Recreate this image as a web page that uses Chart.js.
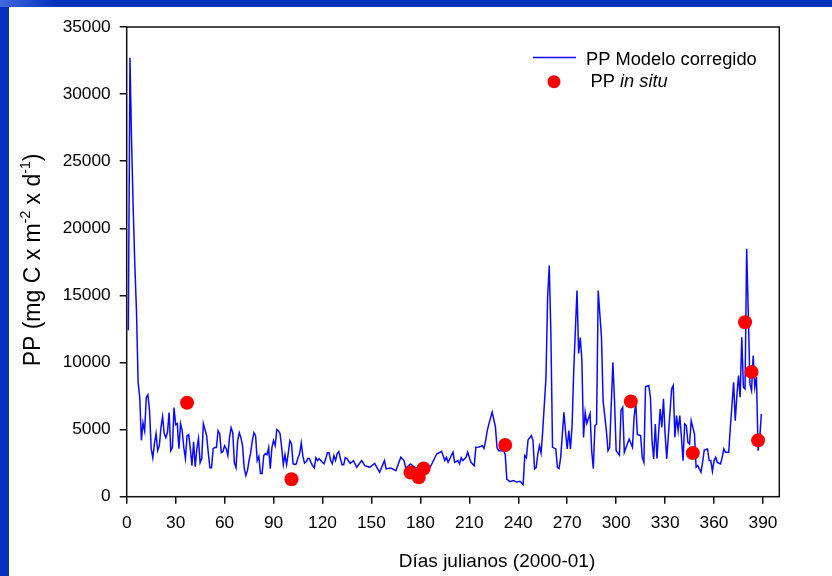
<!DOCTYPE html>
<html><head><meta charset="utf-8">
<script src="https://cdn.jsdelivr.net/npm/chart.js@4.4.1/dist/chart.umd.min.js"></script>
<style>
html,body{margin:0;padding:0;width:832px;height:576px;overflow:hidden;background:#0533bd;}
#bg{position:absolute;left:9px;top:7px;right:0;bottom:0;background:#fff;}
#streak{position:absolute;left:0;top:0;width:60px;height:7px;background:linear-gradient(100deg,rgba(120,150,255,0.55) 0%,rgba(120,150,255,0.0) 90%);}
#wrap{position:absolute;left:0;top:0;width:832px;height:576px;}
</style></head>
<body><div id="bg"></div><div id="streak"></div><div id="wrap"><canvas id="c" width="832" height="576"></canvas></div>
<script>
// ---- data ----
const modelDays = [1,2,3,4,5,6,7,8,9,10,11,12,13,14,15,16,17,18,19,20,21,22,23,24,25,26,27,28,29,30,31,32,33,34,35,36,37,38,39,40,41,42,43,44,45,46,47,48,49,50,51,52,53,54,55,56,57,58,59,60,61,62,63,64,65,66,67,68,69,70,71,72,73,74,75,76,77,78,79,80,81,82,83,84,85,86,87,88,89,90,91,92,93,94,95,96,97,98,99,100,101,102,103,104,105,106,107,108,109,110,111,112,113,114,115,116,117,118,119,120,121,122,123,124,125,126,127,128,129,130,131,132,133,134,135,
137,139,141,144,146,149,152,155,158,159,162,165,168,170,171,174,177,180,183,186,190,193,195,196,197,200,201,203,
204,205,206,208,209,211,213,214,216,218,219,220,221,222,224,226,227,228,231,232,233,235,237,239,241,243,244,245,246,248,249,250,251,252,253,254,255,257,258,259,260,261,263,264,265,266,268,269,270,271,272,273,274,276,277,278,279,280,281,282,284,285,286,287,288,289,291,292,294,295,296,298,299,300,302,303,304,305,307,308,
310,311,312,313,314,315,316,317,318,320,321,322,323,324,325,327,328,329,330,331,332,334,335,336,337,338,339,340,341,342,343,344,345,346,347,348,349,350,351,352,353,354,356,357,358,359,360,361,362,364,365,366,367,369,370,372,373,374,375,376,377,378,379,380,381,382,383,384,385,386,387,388,389];
const modelPP = [12400,32700,26400,21400,17200,13800,8500,7400,4200,5500,4900,7400,7600,6400,3600,2900,3950,4700,3430,3800,5150,5970,4700,4400,4800,6270,3430,3660,6640,5370,5450,3580,5450,4920,3660,2840,4550,4630,3580,2310,4100,2240,3580,4330,2540,2840,5450,5000,4550,3280,2160,2160,3580,3660,3660,4920,4700,3280,3360,3800,3580,3060,4400,5150,4770,2540,2160,4180,4770,4400,3800,2160,1570,1940,2690,3280,4180,4770,4550,2690,3000,1720,1720,3060,3210,3130,3660,2090,3660,4180,3800,5000,4920,4700,3660,2390,3130,2390,3210,4180,3950,2460,2390,2460,2910,3210,4000,3000,2500,2600,2840,2840,2540,2300,2160,2910,2690,2840,2690,2550,2460,2840,3280,3280,2690,2460,3060,2690,3210,3360,2840,2390,2390,2910,2840,
2490,2690,2190,2690,2310,2190,2490,1820,2690,2070,2140,1940,2940,2690,2140,2440,2140,2190,2190,2190,3180,3380,2690,2940,2560,3310,2560,2690,
2440,2900,2690,2940,3310,2560,2310,3680,3700,3800,3600,4180,4920,5430,6300,5200,3650,3430,3430,3150,1300,1120,1200,1100,1150,900,3060,2900,4230,4550,4200,2070,2190,3180,3800,3250,4920,8900,14870,17230,12140,3680,3560,2190,2090,2930,6290,4800,3560,4920,3560,5300,9400,15370,10670,11860,10150,4420,6290,5460,6190,3430,2090,5300,5400,15370,11880,7160,4920,3430,3680,10020,7160,3430,3100,6420,6660,3310,3980,4300,
3680,5920,7040,4630,4600,4550,2930,2560,8200,8280,7410,4180,2810,5420,2840,6540,5170,7290,4680,2810,4560,8030,8280,4430,6040,4930,6040,4430,2690,5420,5300,4050,3930,5670,5170,4680,2190,2320,2070,1820,2560,3480,3560,2690,2690,1890,2690,2940,2560,2440,2940,3560,3310,3310,5170,8530,5670,7530,9030,7410,11880,8160,8030,18480,13630,8410,7910,10520,8160,8910,3430,4300,6170];
const situDays = [37,101,174,179,182,232,309,347,379,383,387];
const situPP   = [7000,1300,1800,1450,2100,3850,7100,3250,13000,9300,4200];
const xTicks = [0,30,60,90,120,150,180,210,240,270,300,330,360,390];
const xTickLabels = xTicks.map(String);
const yTicks = [0,5000,10000,15000,20000,25000,30000,35000];
const yTickLabels = yTicks.map(String);
const seriesNames = ['PP Modelo corregido','PP','in situ'];
const xTitle = 'Días julianos (2000-01)';

// ---- fonts ----
function hasFont(name){
  const c=document.createElement('canvas').getContext('2d');
  const s='PP Modelo corregido 35000';
  c.font='20px monospace'; const a=c.measureText(s).width;
  c.font='20px "'+name+'", monospace'; const b=c.measureText(s).width;
  return Math.abs(a-b)>0.5;
}
const NARROW = hasFont('Liberation Sans Narrow');
const FAM = NARROW ? '"Liberation Sans Narrow", "Liberation Sans", Arial, sans-serif' : '"Liberation Sans", Arial, sans-serif';
const TICK = NARROW ? 21 : 17.3;
const LEG = NARROW ? 22 : 18.3;
const XT = NARROW ? 23 : 19;
const YFAM = '"Liberation Sans", Arial, sans-serif';

const deco = {
  id:'deco',
  afterDraw(chart){
    const {ctx, chartArea:a} = chart;
    ctx.save();
    ctx.strokeStyle='#111'; ctx.lineWidth=1.5;
    ctx.strokeRect(a.left, a.top, a.right-a.left, a.bottom-a.top);
    ctx.fillStyle='#000';
    // x title
    ctx.font = XT+'px '+FAM; ctx.textAlign='center'; ctx.textBaseline='middle';
    ctx.fillText(xTitle, 497, 562);
    // y title with superscripts
    const parts=[['PP (mg C x m',23,0],['-2',14,-10],[' x d',23,0],['-1',14,-10],[')',23,0]];
    let total=0;
    parts.forEach(p=>{ctx.font=p[1]+'px '+YFAM; total+=ctx.measureText(p[0]).width;});
    ctx.translate(40,260); ctx.rotate(-Math.PI/2);
    ctx.textAlign='left'; ctx.textBaseline='alphabetic';
    let x=-total/2;
    parts.forEach(p=>{ctx.font=p[1]+'px '+YFAM; ctx.fillText(p[0],x,p[2]); x+=ctx.measureText(p[0]).width;});
    ctx.setTransform(1,0,0,1,0,0);
    // legend
    ctx.strokeStyle='rgb(10,10,255)'; ctx.lineWidth=1.5;
    ctx.beginPath(); ctx.moveTo(533,57.5); ctx.lineTo(576,57.5); ctx.stroke();
    ctx.textAlign='left'; ctx.textBaseline='alphabetic';
    ctx.font=LEG+'px '+FAM; ctx.fillText(seriesNames[0],586,65);
    ctx.fillStyle='#ff0000'; ctx.beginPath(); ctx.arc(554,81.7,6.5,0,Math.PI*2); ctx.fill();
    ctx.fillStyle='#000';
    ctx.font=LEG+'px '+FAM; ctx.fillText(seriesNames[1]+' ',590.5,87);
    const w=ctx.measureText(seriesNames[1]+' ').width;
    ctx.font='italic '+LEG+'px '+FAM; ctx.fillText(seriesNames[2],590.5+w,87);
    ctx.restore();
  }
};

new Chart(document.getElementById('c'), {
  type:'scatter',
  data:{datasets:[
    {label:seriesNames[0], data:modelDays.map((d,i)=>({x:d,y:modelPP[i]})), showLine:true, pointRadius:0,
     borderColor:'rgb(10,10,255)', borderWidth:1.5, tension:0, order:1},
    {label:'PP in situ', data:situDays.map((d,i)=>({x:d,y:situPP[i]})), pointRadius:7, pointBackgroundColor:'#ff0000',
     pointBorderWidth:0, borderWidth:0, backgroundColor:'#ff0000', order:0}
  ]},
  options:{
    responsive:false, animation:false, devicePixelRatio:1,
    layout:{padding:{top:27,right:52.7,left:0,bottom:0}},
    plugins:{legend:{display:false}, tooltip:{enabled:false}},
    scales:{
      x:{type:'linear', min:0, max:400,
        afterBuildTicks:s=>{s.ticks=xTicks.map(v=>({value:v}));},
        afterFit:s=>{s.height=576-496.7;},
        grid:{drawOnChartArea:false, drawTicks:true, tickLength:7, color:'#111', lineWidth:1.5},
        border:{display:false},
        ticks:{color:'#000', font:{family:FAM,size:TICK}, padding:9, maxRotation:0, autoSkip:false,
          callback:(v,i)=>xTickLabels[i]}},
      y:{type:'linear', min:0, max:35000,
        afterBuildTicks:s=>{s.ticks=yTicks.map(v=>({value:v}));},
        afterFit:s=>{s.width=126.7;},
        grid:{drawOnChartArea:false, drawTicks:true, tickLength:7, color:'#111', lineWidth:1.5},
        border:{display:false},
        ticks:{color:'#000', font:{family:FAM,size:TICK}, padding:9, autoSkip:false,
          callback:(v,i)=>yTickLabels[i]}}
    }
  },
  plugins:[deco]
});
</script></body></html>
